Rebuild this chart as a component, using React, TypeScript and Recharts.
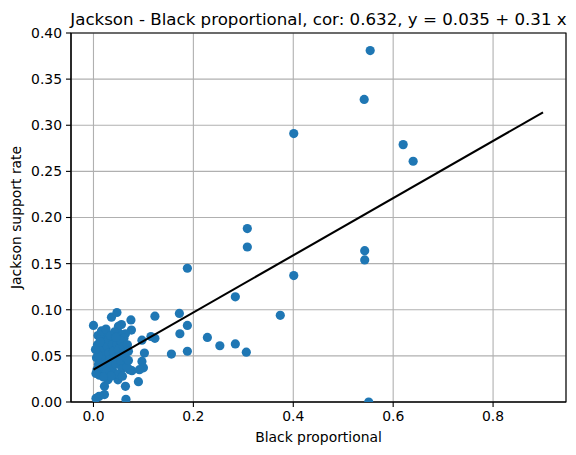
import React from "react";
import {
  ComposedChart,
  Scatter,
  XAxis,
  YAxis,
  ZAxis,
  CartesianGrid,
  ReferenceArea,
} from "recharts";

const blackProportional = [
  0.554, 0.542, 0.401, 0.62, 0.64, 0.308, 0.308, 0.188, 0.401, 0.543, 0.543,
  0.284, 0.374, 0.123, 0.172, 0.188, 0.173, 0.123, 0.115, 0.228, 0.253, 0.284,
  0.306, 0.156, 0.188, 0.551,
  0.0, 0.036, 0.047, 0.075, 0.056, 0.05, 0.076, 0.053, 0.064, 0.097, 0.102,
  0.097, 0.1, 0.077, 0.09, 0.064, 0.049, 0.065, 0.022, 0.011, 0.005, 0.022,
  0.012, 0.009, 0.027, 0.014, 0.041, 0.061, 0.072, 0.092, 0.039, 0.029, 0.064,
  0.008, 0.012, 0.006, 0.01, 0.007, 0.015, 0.018, 0.02, 0.022, 0.025, 0.019,
  0.028, 0.031, 0.033, 0.035, 0.03, 0.038, 0.04, 0.043, 0.045, 0.047, 0.05,
  0.052, 0.055, 0.057, 0.055, 0.06, 0.062, 0.066, 0.068, 0.07, 0.016, 0.025,
  0.042, 0.01, 0.026, 0.048, 0.058, 0.035, 0.004, 0.013, 0.034, 0.045, 0.067,
  0.02, 0.005, 0.07,
];

const jacksonSupport = [
  0.381, 0.328, 0.291, 0.279, 0.261, 0.188, 0.168, 0.145, 0.137, 0.164, 0.154,
  0.114, 0.094, 0.093, 0.096, 0.083, 0.074, 0.069, 0.071, 0.07, 0.061, 0.063,
  0.054, 0.052, 0.055, 0.0,
  0.083, 0.092, 0.097, 0.089, 0.084, 0.082, 0.078, 0.074, 0.074, 0.067, 0.053,
  0.044, 0.037, 0.034, 0.022, 0.017, 0.024, 0.003, 0.008, 0.006, 0.004, 0.017,
  0.029, 0.072, 0.073, 0.069, 0.067, 0.069, 0.035, 0.035, 0.033, 0.024, 0.042,
  0.062, 0.055, 0.048, 0.041, 0.035, 0.046, 0.058, 0.065, 0.05, 0.042, 0.036,
  0.06, 0.053, 0.046, 0.039, 0.068, 0.062, 0.055, 0.048, 0.041, 0.063, 0.057,
  0.05, 0.044, 0.036, 0.066, 0.06, 0.053, 0.047, 0.062, 0.055, 0.077, 0.079,
  0.076, 0.051, 0.033, 0.03, 0.028, 0.028, 0.057, 0.065, 0.072, 0.07, 0.038,
  0.027, 0.031, 0.045,
];

const fitX = [0, 0.9];
const fitY = [0.035, 0.314];

const xTicks = [0, 0.2, 0.4, 0.6, 0.8];
const yTicks = [0, 0.05, 0.1, 0.15, 0.2, 0.25, 0.3, 0.35, 0.4];

const points = blackProportional.map((x, i) => ({ x, y: jacksonSupport[i] }));
const fitLine = fitX.map((x, i) => ({ x, y: fitY[i] }));

const FONT = "DejaVu Sans";
const W = 576;
const H = 455;
const LEFT = 71;
const TOP = 33;
const RIGHT = 566;
const BOTTOM = 402;

const Dot = (props: any) => {
  const { cx, cy } = props;
  if (cx == null || cy == null) return <g />;
  return <circle cx={cx} cy={cy} r={4.6} fill="#1f77b4" />;
};

const NoShape = () => <g />;

export default function App() {
  return (
    <div style={{ position: "absolute", left: 0, top: 0, width: W, height: H, background: "#fff" }}>
      <ComposedChart
        width={W}
        height={H}
        margin={{ top: TOP, right: W - RIGHT, left: 0, bottom: 0 }}
      >
        <CartesianGrid stroke="#b0b0b0" strokeWidth={1.1} />
        <XAxis
          type="number"
          dataKey="x"
          domain={[-0.045, 0.946]}
          ticks={xTicks}
          allowDataOverflow
          tickFormatter={(v: number) => v.toFixed(1)}
          height={H - BOTTOM}
          tickSize={5}
          tickMargin={4}
          axisLine={{ stroke: "#000", strokeWidth: 1.1 }}
          tickLine={{ stroke: "#000", strokeWidth: 1.1 }}
          tick={{ fill: "#000", fontSize: 13.9, fontFamily: FONT }}
        />
        <YAxis
          type="number"
          dataKey="y"
          domain={[0, 0.4]}
          ticks={yTicks}
          allowDataOverflow
          tickFormatter={(v: number) => v.toFixed(2)}
          width={LEFT}
          tickSize={5}
          tickMargin={4}
          axisLine={{ stroke: "#000", strokeWidth: 1.1 }}
          tickLine={{ stroke: "#000", strokeWidth: 1.1 }}
          tick={{ fill: "#000", fontSize: 13.9, fontFamily: FONT }}
        />
        <ZAxis range={[66, 66]} />
        <ReferenceArea
          x1={-0.045}
          x2={0.946}
          y1={0}
          y2={0.4}
          fill="none"
          fillOpacity={0}
          stroke="#000"
          strokeWidth={1.1}
          strokeOpacity={1}
        />
        <Scatter
          data={points}
          shape={Dot}
          fill="#1f77b4"
          isAnimationActive={false}
        />
        <Scatter
          data={fitLine}
          line={{ stroke: "#000", strokeWidth: 2.1 }}
          shape={NoShape}
          isAnimationActive={false}
        />
      </ComposedChart>
      <svg
        width={W}
        height={H}
        style={{ position: "absolute", left: 0, top: 0, pointerEvents: "none" }}
      >
        <text
          x={(LEFT + RIGHT) / 2}
          y={25}
          textAnchor="middle"
          fontFamily={FONT}
          fontSize={16.67}
          fill="#000"
        >
          Jackson - Black proportional, cor: 0.632, y = 0.035 + 0.31 x
        </text>
        <text
          x={(LEFT + RIGHT) / 2}
          y={442}
          textAnchor="middle"
          fontFamily={FONT}
          fontSize={13.9}
          fill="#000"
        >
          Black proportional
        </text>
        <text
          x={21}
          y={(TOP + BOTTOM) / 2}
          textAnchor="middle"
          fontFamily={FONT}
          fontSize={13.9}
          fill="#000"
          transform={`rotate(-90 21 ${(TOP + BOTTOM) / 2})`}
        >
          Jackson support rate
        </text>
      </svg>
    </div>
  );
}
